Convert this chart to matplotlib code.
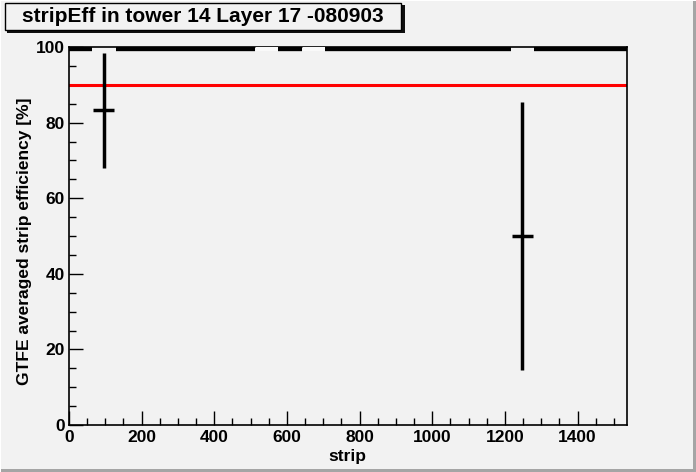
import numpy as np
import matplotlib
matplotlib.use("Agg")
import matplotlib.pyplot as plt
from matplotlib.patches import Rectangle

# strip efficiency per group of 64 strips (None = no entries)
bin_edges = list(range(0, 1537, 64))
eff = [100, 83.3, 100, 100, 100, 100, 100, 100, None, 100, None, 100,
       100, 100, 100, 100, 100, 100, 100, 50.0, 100, 100, 100, 100]
eff_err = [0, 15.2, 0, 0, 0, 0, 0, 0, 0, 0, 0, 0,
           0, 0, 0, 0, 0, 0, 0, 35.4, 0, 0, 0, 0]
threshold = 90

title = "stripEff in tower 14 Layer 17 -080903"
xlabel = "strip"
ylabel = "GTFE averaged strip efficiency [%]"
xticks = [0, 200, 400, 600, 800, 1000, 1200, 1400]
yticks = [0, 20, 40, 60, 80, 100]

bg = "#f2f2f2"
font = ["Liberation Sans", "DejaVu Sans"]
plt.rcParams["font.family"] = font
plt.rcParams["font.weight"] = "bold"

fig = plt.figure(figsize=(6.96, 4.72), dpi=100, facecolor=bg)
ax = fig.add_axes([69 / 696, 47 / 472, 558 / 696, 378 / 472])
ax.set_facecolor(bg)

# histogram with error bars
for i, v in enumerate(eff):
    lo, hi = bin_edges[i], bin_edges[i + 1]
    c = (lo + hi) / 2
    if v is None:
        ax.plot([lo, hi], [100, 100], color="#fafafa", lw=5, solid_capstyle="butt", zorder=3)
        continue
    if v >= 100:
        ax.plot([lo, hi], [v, v], color="black", lw=6, solid_capstyle="butt", zorder=3)
    else:
        ax.plot([lo + 3, hi - 3], [v, v], color="black", lw=2.5, solid_capstyle="butt", zorder=3)
        ax.plot([c, c], [v - eff_err[i], v + eff_err[i]], color="black", lw=2.5,
                solid_capstyle="butt", zorder=3)

ax.axhline(threshold, color="#ff0000", lw=2.2, zorder=2)

ax.set_xlim(0, 1536)
ax.set_ylim(0, 100)
ax.set_xticks(xticks)
ax.set_yticks(yticks)
ax.set_xticks(np.arange(0, 1536, 50), minor=True)
ax.set_yticks(np.arange(0, 101, 5), minor=True)
ax.tick_params(axis="both", which="major", direction="in", length=10, width=1,
               labelsize=12.5)
ax.tick_params(axis="x", which="major", pad=3.3)
ax.tick_params(axis="y", which="major", pad=3)
ax.tick_params(axis="both", which="minor", direction="in", length=5, width=1)
ax.tick_params(top=False, right=False, which="both")
for s in ax.spines.values():
    s.set_linewidth(1.2)

fig.text(347 / 696, 1 - 456.5 / 472, xlabel, ha="center", va="center", fontsize=12.5,
         fontweight="bold")
fig.text(25 / 696, 1 - 241 / 472, ylabel, rotation=90, ha="center",
         va="center", fontsize=12.5, fontweight="bold")

# title box with shadow
fig.patches.append(Rectangle((7 / 696, 1 - 33 / 472), 398 / 696, 28 / 472,
                             transform=fig.transFigure, facecolor="#101010",
                             edgecolor="none", zorder=1))
fig.patches.append(Rectangle((5 / 696, 1 - 30 / 472), 396 / 696, 27 / 472,
                             transform=fig.transFigure, facecolor=bg,
                             edgecolor="black", lw=1, zorder=2))
fig.text(203 / 696, 1 - 16.5 / 472, title, ha="center", va="center", fontsize=15,
         fontweight="bold", zorder=3)

# canvas bevel
fig.patches.append(Rectangle((0, 0), 1, 3 / 472, transform=fig.transFigure,
                             facecolor="#a5a5a5", edgecolor="none"))
fig.patches.append(Rectangle((1 - 3 / 696, 0), 3 / 696, 1, transform=fig.transFigure,
                             facecolor="#a5a5a5", edgecolor="none"))
fig.patches.append(Rectangle((0, 1 - 1 / 472), 1, 1 / 472, transform=fig.transFigure,
                             facecolor="white", edgecolor="none"))
fig.patches.append(Rectangle((0, 0), 1 / 696, 1, transform=fig.transFigure,
                             facecolor="white", edgecolor="none"))

fig.savefig("out.png", dpi=100, facecolor=bg)
